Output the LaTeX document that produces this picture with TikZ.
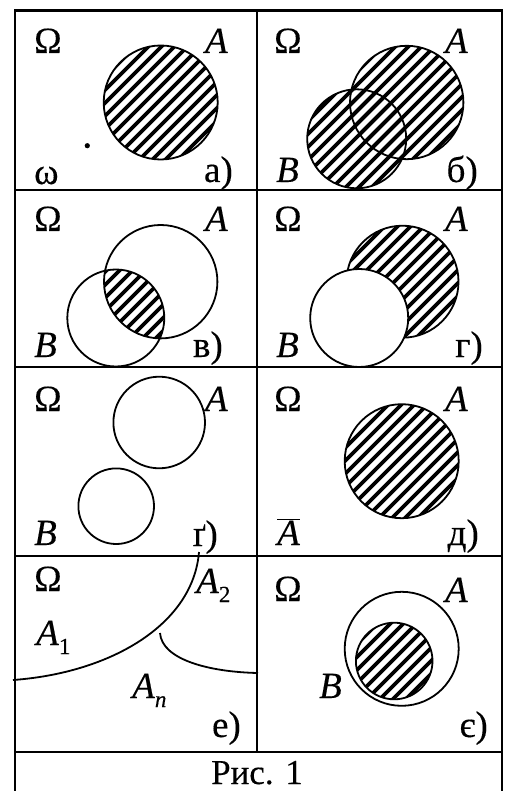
\documentclass[tikz,border=0pt]{standalone}
\usepackage{fontspec}
\setmainfont[FakeBold=0.3]{Liberation Serif}
\tikzset{
  frame/.style={line width=2.6pt},
  ring/.style={line width=1.8pt},
  hatchline/.style={line width=3.8pt},
  curve/.style={line width=1.8pt},
  lbl/.style={inner sep=0pt, anchor=base west, font=\fontsize{37}{37}\selectfont},
  rlbl/.style={lbl, anchor=base east},
  captionstyle/.style={inner sep=0pt, anchor=base, font=\fontsize{35}{35}\selectfont},
}
\newcommand\hatchlines{\foreach \c in {0,13,...,1300} \draw[hatchline] (\c,0) -- (\c-800,800);}
\newcommand\subs[1]{\raisebox{-9pt}{\fontsize{23}{23}\selectfont #1}}
\begin{document}
\begin{tikzpicture}[x=1pt,y=-1pt]
\useasboundingbox (0,0) rectangle (504,791);
% ---------- a)
\begin{scope}\clip (160.7,102.5) circle (57pt); \hatchlines\end{scope}
\draw[ring] (160.7,102.5) circle (57pt);
\fill (87.3,145.7) circle (2.6pt);
\node[lbl] (oa) at (34,53) {Ω};
\node[rlbl] (Aa) at (228,53) {\textit{A}};
\node[lbl] (wa) at (34,184) {ω};
\node[rlbl] (la) at (233,182) {а)};
% ---------- b)
\begin{scope}\clip (406.7,102.5) circle (56.7pt); \hatchlines\end{scope}
\begin{scope}\clip (356.7,138.8) circle (49.5pt); \hatchlines\end{scope}
\draw[ring] (406.7,102.5) circle (56.7pt);
\draw[ring] (356.7,138.8) circle (49.5pt);
\node[lbl] (ob) at (274,53) {Ω};
\node[rlbl] (Ab) at (468,53) {\textit{A}};
\node[lbl] (Bb) at (276,182) {\textit{B}};
\node[rlbl] (lb) at (478,182) {б)};
% ---------- v)
\begin{scope}\clip (160.7,281.7) circle (56.7pt); \clip (115.8,318) circle (48.5pt); \hatchlines\end{scope}
\draw[ring] (160.7,281.7) circle (56.7pt);
\draw[ring] (115.8,318) circle (48.5pt);
\node[lbl] (ov) at (34,231) {Ω};
\node[rlbl] (Av) at (228,231) {\textit{A}};
\node[lbl] (Bv) at (34,357) {\textit{B}};
\node[rlbl] (lv) at (223,357) {в)};
% ---------- g)
\begin{scope}\clip (402.5,281.7) circle (56pt); \hatchlines\end{scope}
\draw[ring] (402.5,281.7) circle (56pt);
\fill[white] (359.2,318) circle (49pt);
\draw[ring] (359.2,318) circle (49pt);
\node[lbl] (og) at (274,231) {Ω};
\node[rlbl] (Ag) at (468,231) {\textit{A}};
\node[lbl] (Bg) at (276,357) {\textit{B}};
\node[rlbl] (lg) at (483,357) {г)};
% ---------- g')
\draw[ring] (159.2,422.5) circle (45.8pt);
\draw[ring] (116.2,506.2) circle (37.8pt);
\node[lbl] (ogg) at (34,411) {Ω};
\node[rlbl] (Agg) at (228,411) {\textit{A}};
\node[lbl] (Bgg) at (34,545) {\textit{B}};
\node[rlbl] (lgg) at (218,546) {ґ)};
% ---------- d)
\begin{scope}\clip (401.7,461.2) circle (57pt); \hatchlines\end{scope}
\draw[ring] (401.7,461.2) circle (57pt);
\node[lbl] (od) at (274,411) {Ω};
\node[rlbl] (Ad) at (468,411) {\textit{A}};
\node[lbl] (Abar) at (277,545) {$\overline{\mbox{\textit{A}}}$};
\node[rlbl] (ld) at (479,545) {д)};
% ---------- e)
\draw[curve] (13,680) .. controls (110,673) and (193,625) .. (199,552);
\draw[curve] (160,633) .. controls (162,660) and (210,672) .. (258,673);
\node[lbl] (oe) at (34,591) {Ω};
\node[lbl] (A1) at (36,645) {\textit{A}\subs{1}};
\node[lbl] (A2) at (196,593) {\textit{A}\subs{2}};
\node[lbl] (An) at (132,698) {\textit{A}\subs{\textit{n}}};
\node[rlbl] (le) at (241,737) {е)};
% ---------- ye)
\draw[ring] (401.7,648.8) circle (57pt);
\begin{scope}\clip (394.2,661) circle (38.3pt); \hatchlines\end{scope}
\draw[ring] (394.2,661) circle (38.3pt);
\node[lbl] (oye) at (274,601) {Ω};
\node[rlbl] (Aye) at (468,602) {\textit{A}};
\node[lbl] (Bye) at (319,698) {\textit{B}};
\node[rlbl] (lye) at (488,737) {є)};
% ---------- frame
\draw[frame] (15,795) -- (15,10.5) -- (502,10.5) -- (502,795);
\draw[frame] (15,190) -- (502,190);
\draw[frame] (15,367) -- (502,367);
\draw[frame] (15,556) -- (502,556);
\draw[frame] (15,752) -- (502,752);
\draw[frame] (257,10.5) -- (257,752);
\node[captionstyle] (caption) at (257,784) {Рис. 1};
\end{tikzpicture}
\end{document}
